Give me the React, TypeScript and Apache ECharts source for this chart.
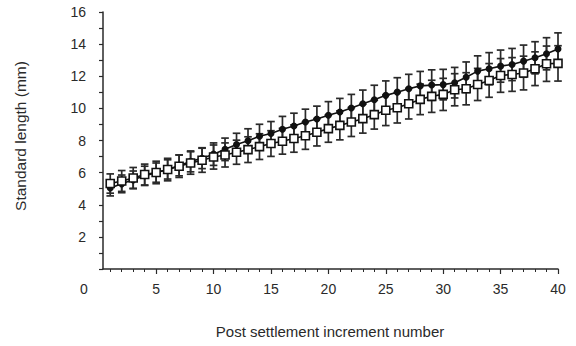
import React, { useEffect, useRef } from "react";
import * as echarts from "echarts";

const increments = [1,2,3,4,5,6,7,8,9,10,11,12,13,14,15,16,17,18,19,20,21,22,23,24,25,26,27,28,29,30,31,32,33,34,35,36,37,38,39,40];
const filledMeans = [5.05,5.3,5.55,5.8,6.0,6.2,6.45,6.7,6.9,7.15,7.45,7.75,7.98,8.26,8.43,8.7,8.9,9.15,9.34,9.57,9.77,10.02,10.29,10.54,10.81,11.01,11.22,11.4,11.45,11.48,11.6,11.94,12.32,12.47,12.63,12.73,12.94,13.15,13.4,13.7];
const filledErr = [0.5,0.55,0.55,0.6,0.6,0.6,0.65,0.65,0.65,0.7,0.7,0.7,0.75,0.75,0.75,0.8,0.8,0.8,0.8,0.85,0.85,0.85,0.85,0.9,0.9,0.9,0.9,0.9,0.95,0.95,0.95,0.95,0.95,1.0,1.0,1.0,1.0,1.0,1.0,1.0];
const openMeans = [5.32,5.48,5.67,5.88,6.01,6.19,6.4,6.6,6.77,6.97,7.1,7.27,7.43,7.62,7.81,7.95,8.12,8.3,8.51,8.74,8.94,9.15,9.36,9.61,9.88,10.04,10.29,10.56,10.75,10.87,11.16,11.22,11.49,11.74,12.05,12.11,12.2,12.47,12.78,12.8];
const openErr = [0.6,0.65,0.65,0.65,0.7,0.7,0.7,0.7,0.75,0.75,0.75,0.75,0.8,0.8,0.8,0.8,0.85,0.85,0.85,0.85,0.9,0.9,0.9,0.9,0.95,0.95,0.95,0.95,1.0,1.0,1.0,1.0,1.0,1.05,1.05,1.05,1.05,1.05,1.1,1.1];
const xMajorTicks = [5,10,15,20,25,30,35,40];
const yLabels = [2,4,6,8,10,12,14,16];

const FONT = "'Liberation Sans', Arial, Helvetica, sans-serif";
const INK = "#2a2a2a";

function errorBarSeries(means: number[], errs: number[], z: number) {
  return {
    type: "custom",
    z,
    silent: true,
    data: increments.map((x, i) => [x, means[i] - errs[i], means[i] + errs[i]]),
    renderItem: (params: any, api: any) => {
      const x = api.value(0);
      const lo = api.coord([x, api.value(1)]);
      const hi = api.coord([x, api.value(2)]);
      const w = 3.8;
      const style = { stroke: "#2a2a2a", lineWidth: 1.7 };
      return {
        type: "group",
        children: [
          { type: "line", shape: { x1: hi[0], y1: hi[1], x2: lo[0], y2: lo[1] }, style },
          { type: "line", shape: { x1: hi[0] - w, y1: hi[1], x2: hi[0] + w, y2: hi[1] }, style },
          { type: "line", shape: { x1: lo[0] - w, y1: lo[1], x2: lo[0] + w, y2: lo[1] }, style },
        ],
      };
    },
  };
}

export default function App() {
  const ref = useRef<HTMLDivElement>(null);
  useEffect(() => {
    if (!ref.current) return;
    const chart = echarts.init(ref.current, null, { renderer: "svg" });
    const xMin = 0.37;
    chart.setOption({
      animation: false,
      backgroundColor: "#fff",
      grid: { left: 103, right: 18, top: 12, bottom: 77, containLabel: false },
      xAxis: [
        {
          type: "value",
          min: xMin,
          max: 40,
          position: "bottom",
          splitLine: { show: false },
          axisLine: { show: true, lineStyle: { color: INK, width: 1.5 } },
          axisTick: { show: true, length: 5, customValues: xMajorTicks, lineStyle: { color: INK, width: 1.2 } },
          axisLabel: { show: true, customValues: xMajorTicks, margin: 13, fontSize: 14, color: INK, fontFamily: FONT },
        },
        {
          type: "value",
          min: xMin,
          max: 40,
          position: "bottom",
          splitLine: { show: false },
          axisLine: { show: false },
          axisTick: { show: true, length: 3, customValues: increments, lineStyle: { color: INK, width: 1 } },
          axisLabel: { show: false },
        },
      ],
      yAxis: {
        type: "value",
        min: 0,
        max: 16,
        interval: 2,
        splitLine: { show: false },
        axisLine: { show: true, lineStyle: { color: INK, width: 1.5 } },
        axisTick: { show: true, length: 4, lineStyle: { color: INK, width: 1.2 } },
        minorTick: { show: true, splitNumber: 2, length: 4, lineStyle: { color: INK, width: 1.2 } },
        axisLabel: {
          margin: 17,
          fontSize: 14,
          color: INK,
          fontFamily: FONT,
          formatter: (v: number) => (yLabels.includes(v) ? String(v) : ""),
        },
      },
      graphic: [
        { type: "text", left: 80, top: 282, style: { text: "0", fontSize: 14, fill: INK, fontFamily: FONT } },
        {
          type: "text",
          x: 330,
          y: 331,
          style: { text: "Post settlement increment number", fontSize: 15, fill: INK, fontFamily: FONT, align: "center", verticalAlign: "middle" },
        },
        {
          type: "text",
          x: 20,
          y: 136,
          rotation: Math.PI / 2,
          style: { text: "Standard length (mm)", fontSize: 15.5, fill: INK, fontFamily: FONT, align: "center", verticalAlign: "middle" },
        },
      ],
      series: [
        errorBarSeries(filledMeans, filledErr, 1),
        errorBarSeries(openMeans, openErr, 1),
        {
          type: "line",
          z: 3,
          data: increments.map((x, i) => [x, filledMeans[i]]),
          symbol: "circle",
          symbolSize: 7,
          lineStyle: { color: "#111", width: 1.6 },
          itemStyle: { color: "#111" },
        },
        {
          type: "line",
          z: 4,
          data: increments.map((x, i) => [x, openMeans[i]]),
          symbol: "rect",
          symbolSize: 8,
          lineStyle: { color: "#111", width: 1.6 },
          itemStyle: { color: "#fff", borderColor: "#111", borderWidth: 1.6 },
        },
      ],
    });
    return () => chart.dispose();
  }, []);
  return <div ref={ref} style={{ position: "fixed", left: 0, top: 0, width: 576, height: 346 }} />;
}
